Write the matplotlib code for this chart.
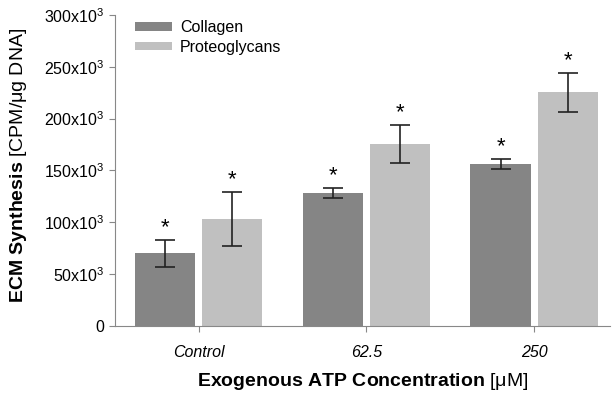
import numpy as np
import matplotlib
matplotlib.use("Agg")
import matplotlib.pyplot as plt

plt.rcParams['font.family'] = ['Liberation Sans', 'DejaVu Sans']
plt.rcParams['mathtext.fontset'] = 'custom'
plt.rcParams['mathtext.rm'] = 'Liberation Sans'
plt.rcParams['mathtext.bf'] = 'Liberation Sans:bold'
plt.rcParams['mathtext.it'] = 'Liberation Sans:italic'

groups = ['Control', '62.5', '250']
collagen = [70000, 128000, 156000]
collagen_err = [13000, 5000, 5000]
proteoglycans = [103000, 175500, 225500]
proteoglycans_err = [26000, 18500, 19000]
yticks = [0, 50000, 100000, 150000, 200000, 250000, 300000]
ytick_labels = ['0', '50x10$^3$', '100x10$^3$', '150x10$^3$', '200x10$^3$', '250x10$^3$', '300x10$^3$']

fig = plt.figure(figsize=(6.14, 3.95), dpi=100)
ax = fig.add_axes([0.187, 0.175, 0.806, 0.787])

x = np.arange(len(groups))
w = 0.36
errkw = dict(ecolor='#222222', elinewidth=1.2, capsize=7, capthick=1.2)
ax.bar(x - 0.2, collagen, w, yerr=collagen_err, color='#858585', label='Collagen', error_kw=errkw)
ax.bar(x + 0.2, proteoglycans, w, yerr=proteoglycans_err, color='#c0c0c0', label='Proteoglycans', error_kw=errkw)

# significance stars
for xi, v, e in zip(x - 0.2, collagen, collagen_err):
    ax.text(xi, v + e + 1500, '*', ha='center', va='bottom', fontsize=16)
for xi, v, e in zip(x + 0.2, proteoglycans, proteoglycans_err):
    ax.text(xi, v + e + 1500, '*', ha='center', va='bottom', fontsize=16)

ax.set_xlim(-0.5, 2.45)
ax.set_ylim(0, 300000)
ax.set_yticks(yticks)
ax.set_yticklabels(ytick_labels, fontsize=11.5)
ax.set_xticks(x)
ax.set_xticklabels(groups, fontsize=11.5, style='italic')
ax.tick_params(axis='both', colors='#888888', labelcolor='black', length=4)
ax.tick_params(axis='x', pad=10)

for s in ['top', 'right']:
    ax.spines[s].set_visible(False)
for s in ['left', 'bottom']:
    ax.spines[s].set_color('#888888')

ax.set_ylabel(r'$\mathbf{ECM\ Synthesis}$ [CPM/$\mathrm{\mu}$g DNA]', fontsize=14, labelpad=11)
ax.yaxis.label.set_y(0.515)
ax.set_xlabel(r'$\mathbf{Exogenous\ ATP\ Concentration}$ [$\mathrm{\mu}$M]', fontsize=14, labelpad=8)

ax.legend(loc='upper left', frameon=False, fontsize=11.5, handlelength=2.3, handleheight=0.45,
          labelspacing=0.3, handletextpad=0.5, bbox_to_anchor=(0.012, 1.03))

fig.savefig('out.png', dpi=100)
